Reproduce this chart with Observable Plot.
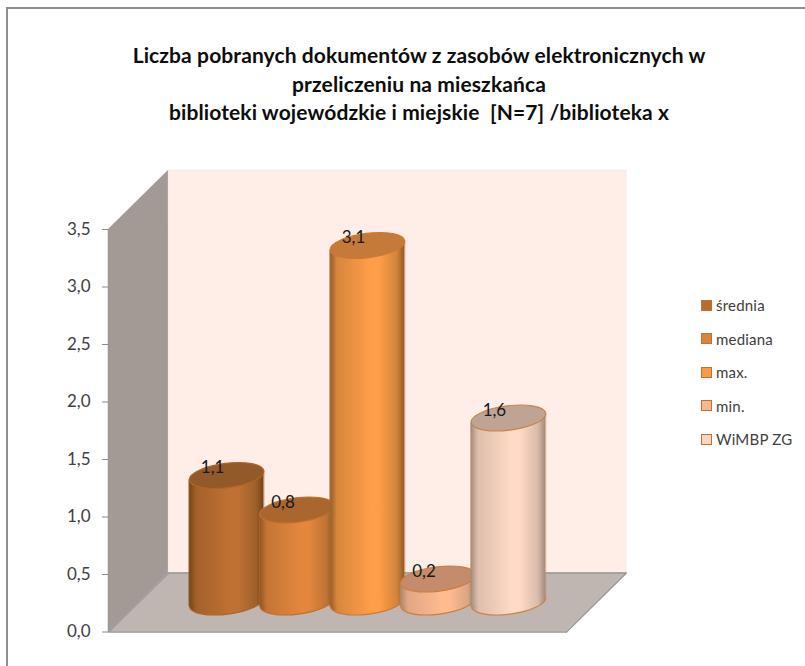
<!DOCTYPE html>
<html lang="pl">
<head>
<meta charset="utf-8">
<script src="https://cdn.jsdelivr.net/npm/d3@7"></script>
<script src="https://cdn.jsdelivr.net/npm/@observablehq/plot@0.6"></script>
<style>
  html, body { margin: 0; padding: 0; background: #fff; width: 805px; height: 666px; overflow: hidden; }
  #wrap { position: relative; width: 805px; height: 666px; font-family: Lato, sans-serif; }
  #wrap svg { position: absolute; left: 0; top: 0; }
  #frame { position: absolute; left: 6px; top: 7px; right: 0; bottom: 0; border-left: 2px solid #8e8e8e; border-top: 2px solid #8e8e8e; }
  #title { position: absolute; left: 19px; width: 800px; top: 41px; text-align: center; font-weight: 700; font-size: 21px; letter-spacing: .11px; line-height: 28.5px; color: #0d0d0d; white-space: pre; }
  #legend { position: absolute; left: 701px; top: 288.5px; color: #404040; font-size: 15px; }
  #legend div { height: 33.5px; display: flex; align-items: center; white-space: nowrap; letter-spacing: .2px; }
  #legend i { display: inline-block; box-sizing: border-box; width: 11px; height: 11px; margin-right: 4px; border: 1.5px solid #bd7233; }
</style>
</head>
<body>
<div id="wrap"></div>
<script>
const titleLines = [
  "Liczba pobranych dokumentów z zasobów elektronicznych w",
  "przeliczeniu na mieszkańca",
  "biblioteki wojewódzkie i miejskie  [N=7] /biblioteka x"
];
const categories = ["średnia", "mediana", "max.", "min.", "WiMBP ZG"];
const values = [1.1, 0.8, 3.1, 0.2, 1.6];
const yTicks = [0, 0.5, 1, 1.5, 2, 2.5, 3, 3.5];
const bodyColors = ["#bf7133", "#e3873e", "#ff9e48", "#ffba90", "#ffdac6"];
const edgeColors = ["#704419", "#8a5424", "#8f5a28", "#a5856f", "#a08a7e"];
const topColors = ["#935a29", "#a9662f", "#c47a39", "#c48b6c", "#bfa393"];
const strokeColors = ["#ad6429", "#c0702f", "#cc7a35", "#c97f3f", "#cb8347"];
const legendFill = ["#b86c30", "#dc843c", "#fb9a45", "#fdb68e", "#fdd4be"];

const wallFill = "#feeee7", sideFill = "#a39a95", floorFill = "#bfb5b1", edge = "#999";
const xMin = -1.25, xMax = 5.25, yMax = 3.5;
const depthX = 0.85, depthY = 0.514;       // depth of the 3-D box in scale units
const halfW = 0.531, tilt = 0.04;          // cylinder half width, and slant of its caps in scale units

// A tilted ellipse (cap of a cylinder) as a Plot symbol; half = only its lower arc
function capSymbol(half) {
  const a = 37.5, b = 12.2, th = -7 * Math.PI / 180, k = 0.5523;
  const P = (u, v) => [u * Math.cos(th) - v * Math.sin(th), u * Math.sin(th) + v * Math.cos(th)];
  return {
    draw(c) {
      c.moveTo(...P(-a, 0));
      c.bezierCurveTo(...P(-a, k * b), ...P(-k * a, b), ...P(0, b));
      c.bezierCurveTo(...P(k * a, b), ...P(a, k * b), ...P(a, 0));
      if (!half) {
        c.bezierCurveTo(...P(a, -k * b), ...P(k * a, -b), ...P(0, -b));
        c.bezierCurveTo(...P(-k * a, -b), ...P(-a, -k * b), ...P(-a, 0));
        c.closePath();
      }
    }
  };
}

const gradients = () => {
  const defs = d3.create("svg:defs");
  categories.forEach((_, i) => {
    const g = defs.append("linearGradient").attr("id", "cyl" + i).attr("x1", 0).attr("x2", 1).attr("y1", 0).attr("y2", 0);
    [[0, edgeColors[i]], [0.1, d3.interpolateRgb(edgeColors[i], bodyColors[i])(0.65)], [0.55, bodyColors[i]],
     [0.66, bodyColors[i]], [0.9, d3.interpolateRgb(edgeColors[i], bodyColors[i])(0.6)], [1, edgeColors[i]]]
      .forEach(([o, c]) => g.append("stop").attr("offset", o).attr("stop-color", c));
  });
  return defs.node();
};

const lift = { dx: 30, dy: -30 };
const cylinders = values.flatMap((v, i) => {
  const body = [
    { x: i - halfW, y1: -tilt, y2: v - tilt },
    { x: i + halfW, y1: tilt, y2: v + tilt }
  ];
  const sides = [
    { x: i - halfW, y: -tilt, s: 0 }, { x: i - halfW, y: v - tilt, s: 0 },
    { x: i + halfW, y: tilt, s: 1 }, { x: i + halfW, y: v + tilt, s: 1 }
  ];
  return [
    Plot.dot([{ x: i, y: 0 }], { x: "x", y: "y", r: 10, symbol: capSymbol(false), fill: `url(#cyl${i})`, stroke: "none", ...lift }),
    Plot.areaY(body, { x: "x", y1: "y1", y2: "y2", fill: `url(#cyl${i})`, ...lift }),
    Plot.dot([{ x: i, y: 0 }], { x: "x", y: "y", r: 10, symbol: capSymbol(true), fill: "none", stroke: strokeColors[i], strokeWidth: 1.2, ...lift }),
    Plot.line(sides, { x: "x", y: "y", z: "s", stroke: strokeColors[i], strokeWidth: 1, strokeOpacity: 0.5, ...lift }),
    Plot.dot([{ x: i, y: v }], { x: "x", y: "y", r: 10, symbol: capSymbol(false), fill: topColors[i], stroke: strokeColors[i], strokeWidth: 1.2, ...lift })
  ];
});

const chart = Plot.plot({
  width: 805,
  height: 666,
  marginLeft: 108,
  marginRight: 239,
  marginTop: 229,
  marginBottom: 34.5,
  style: { background: "transparent", overflow: "visible", fontFamily: "Lato, sans-serif" },
  x: { domain: [xMin, xMax], axis: null },
  y: { domain: [0, yMax] },
  marks: [
    gradients,
    // back wall
    Plot.rect([0], { x1: xMin, x2: xMax, y1: 0, y2: yMax, fill: wallFill, stroke: "#f4e8e2", strokeWidth: 0.8, dx: 60, dy: -59 }),
    // side wall
    Plot.areaY([{ x: xMin, y1: 0, y2: yMax }, { x: xMin + depthX, y1: depthY, y2: yMax + depthY }],
      { x: "x", y1: "y1", y2: "y2", fill: sideFill }),
    // floor
    Plot.areaX([{ y: 0, x1: xMin, x2: xMax }, { y: depthY, x1: xMin + depthX, x2: xMax + depthX }],
      { y: "y", x1: "x1", x2: "x2", fill: floorFill }),
    Plot.line([
      { x: xMin + depthX, y: depthY }, { x: xMax + depthX, y: depthY }, { x: xMax, y: 0 }, { x: xMin, y: 0 }, { x: xMin + depthX, y: depthY }
    ], { x: "x", y: "y", stroke: edge, strokeWidth: 1.5 }),
    Plot.ruleX([xMin], { y1: 0, y2: yMax, stroke: edge, strokeWidth: 1.5 }),
    Plot.axisY({
      ticks: yTicks,
      tickFormat: (d) => d3.format(".1f")(d).replace(".", ","),
      tickSize: 6,
      tickPadding: 12,
      stroke: "#8a8a8a",
      fill: "#404040",
      fontSize: 17,
      label: null
    }),
    ...cylinders,
    Plot.text(values.map((v, i) => ({ i, v })), {
      x: "i", y: "v", text: (d) => String(d.v).replace(".", ","),
      fontSize: 17, fill: "#1a1a1a", dx: 16, dy: -37.5
    })
  ]
});

const wrap = document.getElementById("wrap");
const frame = document.createElement("div");
frame.id = "frame";
wrap.append(frame, chart);

const title = document.createElement("div");
title.id = "title";
title.textContent = titleLines.join("\n");
wrap.append(title);

const legend = document.createElement("div");
legend.id = "legend";
categories.forEach((c, i) => {
  const row = document.createElement("div");
  const sw = document.createElement("i");
  sw.style.background = legendFill[i];
  row.append(sw, document.createTextNode(c));
  legend.append(row);
});
wrap.append(legend);
</script>
</body>
</html>
